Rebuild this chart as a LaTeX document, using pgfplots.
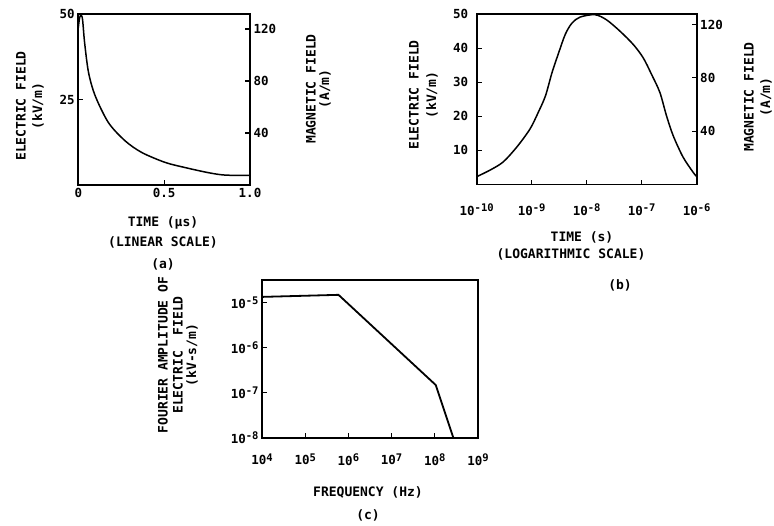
\documentclass[border=0pt]{standalone}
\usepackage{fontspec}
\setmainfont{DejaVu Sans Mono}
\usepackage{pgfplots}
\pgfplotsset{compat=1.18}

\newcommand{\lb}{\fontsize{13}{15}\selectfont\bfseries}
\newcommand{\e}[1]{10\raisebox{0.55ex}{\fontsize{10.5}{11}\selectfont #1}}

\pgfplotsset{
  oldfig/.style={
    scale only axis, anchor=south west, clip=false,
    axis line style={line width=1.8pt},
    every tick/.style={black, line width=1.1pt},
    tick align=inside, major tick length=5pt,
    ticklabel style={font=\fontsize{12.5}{13}\selectfont\bfseries},
    xtick pos=left, ytick pos=left,
  },
  rightax/.style={
    scale only axis, anchor=south west, hide x axis,
    axis line style={line width=1.8pt},
    every tick/.style={black, line width=1.1pt},
    tick align=inside, major tick length=5pt,
    ticklabel style={font=\fontsize{12.5}{13}\selectfont\bfseries},
    ytick pos=right, yticklabel pos=right,
    ytick={40,80,120}, yticklabels={40,80,120},
  },
  curve/.style={black, line width=1.5pt, smooth, tension=0.5, no markers},
}

\begin{document}
\begin{tikzpicture}

% ---------- (a) linear time scale ----------
\begin{axis}[oldfig, at={(78.3pt,-185pt)}, width=171.7pt, height=171pt,
    xmin=0, xmax=1, ymin=0, ymax=50,
    xtick={0,0.5,1}, xticklabels={0,0.5,1.0},
    ytick={25,50}, yticklabels={25,50}]
\addplot[curve] coordinates {
 (0,46) (0.008,49) (0.017,49.6) (0.025,48.3) (0.037,41.5) (0.06,32.8)
 (0.099,26) (0.176,18.2) (0.273,12.9) (0.37,9.5) (0.506,6.6) (0.622,5.1)
 (0.758,3.6) (0.855,2.9) (1.0,2.8)
};
\end{axis}
\begin{axis}[rightax, at={(78.3pt,-185pt)}, width=171.7pt, height=171pt,
    xmin=0, xmax=1, ymin=0, ymax=131.5]
\end{axis}

% ---------- (b) logarithmic time scale ----------
\begin{axis}[oldfig, at={(476.7pt,-184.5pt)}, width=220pt, height=170.5pt,
    xmode=log, xmin=1e-10, xmax=1e-6, ymin=0, ymax=50,
    xminorticks=false,
    xtick={1e-10,1e-9,1e-8,1e-7,1e-6},
    xticklabels={\e{-10},\e{-9},\e{-8},\e{-7},\e{-6}},
    xticklabel style={yshift=-16pt},
    ytick={10,20,30,40,50}, yticklabels={10,20,30,40,50},
    yticklabel style={xshift=-5pt}]
\addplot[curve] coordinates {
 (1e-10,2.3) (1.74e-10,4.2) (3.02e-10,6.6) (5.37e-10,11) (9.33e-10,16.3)
 (1.32e-9,21.2) (1.78e-9,26) (2.34e-9,32.8) (3.09e-9,38.6) (4.07e-9,44)
 (5.37e-9,47.3) (7.59e-9,49.1) (1.41e-8,49.8) (2.29e-8,48.3)
 (4.07e-8,44.9) (7.08e-8,41) (1.07e-7,37.1) (1.51e-7,32.3) (2.14e-7,27)
 (2.82e-7,20.2) (3.72e-7,14.4) (5.62e-7,8.1) (8.51e-7,3.7) (1e-6,2.3)
};
\end{axis}
\begin{axis}[rightax, at={(476.7pt,-184.5pt)}, width=220pt, height=170.5pt,
    xmin=0, xmax=1, ymin=0, ymax=128]
\end{axis}

% ---------- (c) Fourier amplitude ----------
\begin{axis}[oldfig, at={(262pt,-438pt)}, width=216pt, height=158pt,
    xmode=log, ymode=log, xmin=1e4, xmax=1e9, ymin=1e-8, ymax=3.2e-5,
    xminorticks=false, yminorticks=false,
    xtick={1e4,1e5,1e6,1e7,1e8,1e9},
    xticklabels={\e{4},\e{5},\e{6},\e{7},\e{8},\e{9}},
    xticklabel style={yshift=-12pt},
    ytick={1e-8,1e-7,1e-6,1e-5},
    yticklabels={\e{-8},\e{-7},\e{-6},\e{-5}}]
\addplot[black, line width=1.8pt, no markers] coordinates {
 (1e4,1.35e-5) (5.9e5,1.5e-5) (1.05e8,1.5e-7) (2.7e8,1e-8)
};
\end{axis}

% ---------- axis titles ----------
\node[rotate=90, font=\lb] at (21pt,-106pt) {ELECTRIC FIELD};
\node[rotate=90, font=\lb] at (38pt,-106pt) {(kV/m)};
\node[rotate=90, font=\lb] at (311pt,-89pt) {MAGNETIC FIELD};
\node[rotate=90, font=\lb] at (325pt,-89pt) {(A/m)};
\node[font=\lb] at (163pt,-223pt) {TIME (µs)};
\node[font=\lb] at (163pt,-242pt) {(LINEAR SCALE)};
\node[font=\lb] at (163pt,-264pt) {(a)};

\node[rotate=90, font=\lb] at (414pt,-95pt) {ELECTRIC FIELD};
\node[rotate=90, font=\lb] at (432pt,-95pt) {(kV/m)};
\node[rotate=90, font=\lb] at (749pt,-97pt) {MAGNETIC FIELD};
\node[rotate=90, font=\lb] at (766pt,-97pt) {(A/m)};
\node[font=\lb] at (582pt,-237pt) {TIME (s)};
\node[font=\lb] at (571pt,-254pt) {(LOGARITHMIC SCALE)};
\node[font=\lb] at (620pt,-285pt) {(b)};

\node[rotate=90, font=\lb] at (163pt,-355pt) {FOURIER AMPLITUDE OF};
\node[rotate=90, font=\lb] at (178pt,-355pt) {ELECTRIC\ \ FIELD};
\node[rotate=90, font=\lb] at (192pt,-355pt) {(kV-s/m)};
\node[font=\lb] at (368pt,-492pt) {FREQUENCY (Hz)};
\node[font=\lb] at (368pt,-515pt) {(c)};

\pgfresetboundingbox
\useasboundingbox (0pt,0pt) rectangle (774pt,-525pt);
\end{tikzpicture}
\end{document}
